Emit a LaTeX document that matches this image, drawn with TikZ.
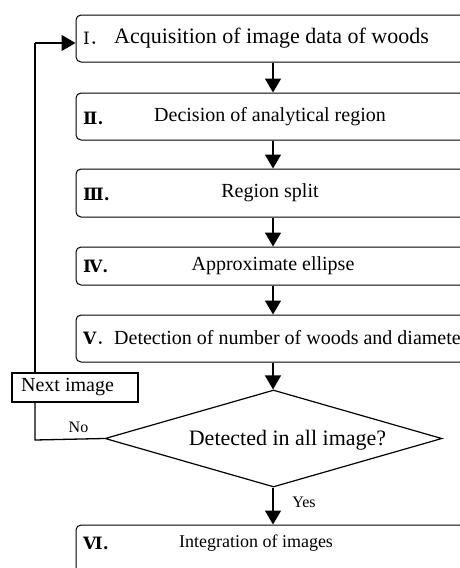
\documentclass[tikz,border=0pt]{standalone}
\usepackage{fontspec}
\setmainfont{Liberation Serif}
\newfontfamily\numfont{DejaVu Serif}
\newfontfamily\jp{Noto Sans CJK JP}
\usetikzlibrary{arrows.meta,shapes.geometric}
\begin{document}
\begin{tikzpicture}[x=1pt,y=-1pt,
  stepbox/.style={draw,line width=1pt,rounded corners=5pt,minimum width=404pt,inner sep=0pt},
  arr/.style={line width=1.6pt,-{Triangle[length=14pt,width=16pt]}},
  flow/.style={line width=1.3pt},
  num/.style={anchor=west,inner sep=0pt,font=\numfont\fontsize{17}{17}\selectfont},
  bnum/.style={num,font=\numfont\bfseries\fontsize{17}{17}\selectfont},
  txt/.style={inner sep=0pt,font=\fontsize{20}{20}\selectfont},
  big/.style={inner sep=0pt,font=\fontsize{22}{22}\selectfont},
  small/.style={inner sep=0pt,font=\fontsize{16}{16}\selectfont}]
\useasboundingbox (0,0) rectangle (460,568);
\clip (0,0) rectangle (460,568);
\coordinate (axis) at (273,0);
% boxes
\node[stepbox,minimum height=47pt] (b1) at (278,38.5) {};
\node[stepbox,minimum height=47pt] (b2) at (278,116.5) {};
\node[stepbox,minimum height=48pt] (b3) at (278,193) {};
\node[stepbox,minimum height=38pt] (b4) at (278,266) {};
\node[stepbox,minimum height=47pt] (b5) at (278,338.5) {};
\node[stepbox,minimum height=60pt] (b6) at (278,555) {};
\node[draw,line width=1.2pt,shape=diamond,minimum width=337pt,minimum height=97pt,inner sep=0pt] (dia) at (273.5,438.5) {};
\node[draw,line width=1.2pt,minimum width=126pt,minimum height=29pt,inner sep=0pt] (next) at (75,387.5) {};
% texts
\node[num] (n1) at (83,38.5) {Ⅰ{\jp ．}};
\node[big,anchor=west] (t1) at (114,38.5) {Acquisition of image data of woods};
\node[bnum] (n2) at (83,118) {Ⅱ.};
\node[txt] (t2) at (270,117) {Decision of analytical region};
\node[bnum] (n3) at (83,194) {Ⅲ.};
\node[txt] (t3) at (270,193) {Region split};
\node[bnum] (n4) at (83,266) {Ⅳ.};
\node[txt] (t4) at (273,266) {Approximate ellipse};
\node[bnum] (n5) at (83,338) {Ⅴ{\jp\mdseries ．}};
\node[txt,anchor=west] (t5) at (114,338) {Detection of number of woods and diameter};
\node[big] (td) at (287.5,440) {Detected in all image?};
\node[bnum] (n6) at (83,543) {Ⅵ.};
\node[small,font=\fontsize{18}{18}\selectfont] (t6) at (256,543) {Integration of images};
\node[txt] (tn) at (67.5,387.5) {Next image};
\node[small] (no) at (78.5,427) {No};
\node[small] (yes) at (304,502) {Yes};
% connectors
\draw[arr] (b1.south -| axis) -- (b2.north -| axis);
\draw[arr] (b2.south -| axis) -- (b3.north -| axis);
\draw[arr] (b3.south -| axis) -- (b4.north -| axis);
\draw[arr] (b4.south -| axis) -- (b5.north -| axis);
\draw[arr] (b5.south -| axis) -- (dia.north -| axis);
\draw[arr] (dia.south -| axis) -- (b6.north -| axis);
\coordinate (fb) at (35,43);
\coordinate (fl) at (35,440);
\draw[flow] (dia.west) -- (fl) -- (fl |- next.south);
\draw[flow] (fb |- next.north) -- (fb);
\draw[arr,line width=1.3pt] (fb) -- (fb -| b1.west);
\end{tikzpicture}
\end{document}
